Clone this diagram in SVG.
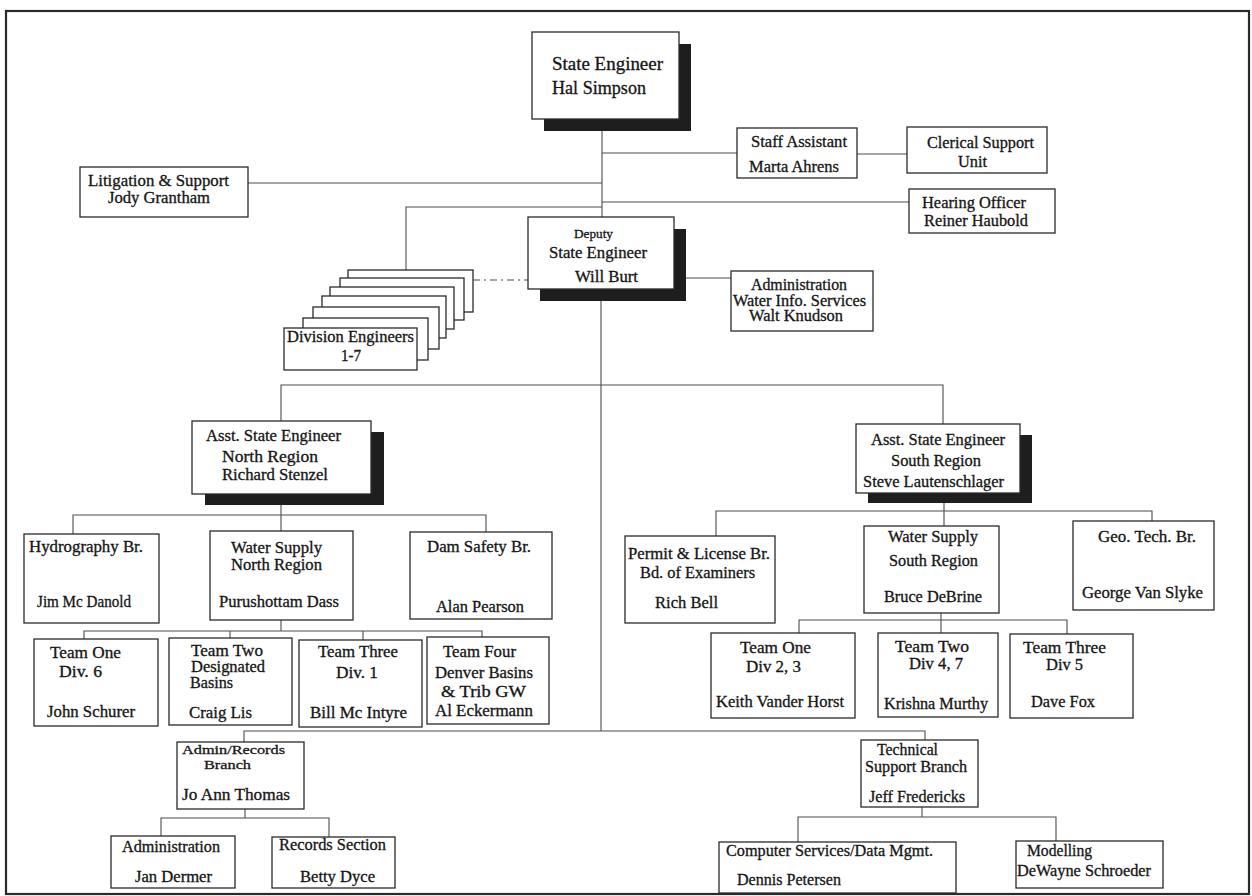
<svg xmlns="http://www.w3.org/2000/svg" width="1252" height="896" viewBox="0 0 1252 896">
<style>
.box{fill:#fff;stroke:#2a2a2a;stroke-width:1.3}
.sh{fill:#1e1e1e}
.ln{fill:none;stroke:#4a4a55;stroke-width:1.1}
text{font-family:"Liberation Serif","Times New Roman",serif;font-size:16px;fill:#151515;stroke:#151515;stroke-width:0.3}
.big{font-size:18px}
.sm{font-size:13px}
.tight{font-size:13px}
</style>
<rect x="0" y="0" width="1252" height="896" fill="#fff"/>
<rect x="6" y="11" width="1243" height="883" fill="none" stroke="#2a2a2a" stroke-width="2.2"/>

<g id="connectors">
<path class="ln" d="M602 119V217M601 289V731"/>
<path class="ln" d="M602 153H737M857 154H907"/>
<path class="ln" d="M248 183H602"/>
<path class="ln" d="M602 202H909"/>
<path class="ln" d="M406 270V207H602"/>
<path class="ln" d="M473 280H529" stroke-dasharray="7 4 2 4"/>
<path class="ln" d="M674 278H731"/>
<path class="ln" d="M281 421V385H943V424"/>
<path class="ln" d="M73 534V515H486V532M281 494V531"/>
<path class="ln" d="M281 620V631M84 639V631H482V637M230 631V638M363 631V640"/>
<path class="ln" d="M716 536V511H1152V521M944 493V526"/>
<path class="ln" d="M941 613V633M799 633V620H1067V634"/>
<path class="ln" d="M244 742V731H925V740"/>
<path class="ln" d="M245 809V818M161 836V818H329V837"/>
<path class="ln" d="M922 807V817M798 842V817H1056V841"/>
</g>

<g id="state-engineer">
<rect class="sh" x="544" y="44" width="147" height="87"/>
<rect class="box" x="532" y="32" width="147" height="87"/>
<text class="big" x="552" y="70" textLength="111" lengthAdjust="spacingAndGlyphs">State Engineer</text>
<text class="big" x="552" y="94" textLength="94" lengthAdjust="spacingAndGlyphs">Hal Simpson</text>
</g>

<g id="staff-assistant">
<rect class="box" x="737" y="128" width="120" height="50"/>
<text x="751" y="147" textLength="96" lengthAdjust="spacingAndGlyphs">Staff Assistant</text>
<text x="749" y="172" textLength="90" lengthAdjust="spacingAndGlyphs">Marta Ahrens</text>
</g>

<g id="clerical-support">
<rect class="box" x="907" y="127" width="140" height="46"/>
<text x="927" y="148" textLength="107" lengthAdjust="spacingAndGlyphs">Clerical Support</text>
<text x="958" y="167" textLength="29" lengthAdjust="spacingAndGlyphs">Unit</text>
</g>

<g id="litigation">
<rect class="box" x="80" y="167" width="168" height="50"/>
<text x="88" y="186" textLength="141" lengthAdjust="spacingAndGlyphs">Litigation &amp; Support</text>
<text x="108" y="203" textLength="102" lengthAdjust="spacingAndGlyphs">Jody Grantham</text>
</g>

<g id="hearing-officer">
<rect class="box" x="909" y="189" width="146" height="44"/>
<text x="922" y="208" textLength="104" lengthAdjust="spacingAndGlyphs">Hearing Officer</text>
<text x="924" y="226" textLength="104" lengthAdjust="spacingAndGlyphs">Reiner Haubold</text>
</g>

<g id="deputy">
<rect class="sh" x="540" y="229" width="146" height="72"/>
<rect class="box" x="528" y="217" width="146" height="72"/>
<text class="sm" x="574" y="238" textLength="39" lengthAdjust="spacingAndGlyphs">Deputy</text>
<text x="549" y="258" textLength="98" lengthAdjust="spacingAndGlyphs">State Engineer</text>
<text x="575" y="282" textLength="63" lengthAdjust="spacingAndGlyphs">Will Burt</text>
</g>

<g id="admin-wis">
<rect class="box" x="731" y="271" width="142" height="60"/>
<text x="751" y="290" textLength="96" lengthAdjust="spacingAndGlyphs">Administration</text>
<text x="733" y="306" textLength="133" lengthAdjust="spacingAndGlyphs">Water Info. Services</text>
<text x="749" y="321" textLength="94" lengthAdjust="spacingAndGlyphs">Walt Knudson</text>
</g>

<g id="division-engineers">
<rect class="box" x="348" y="270" width="125" height="42"/>
<rect class="box" x="340" y="278" width="124" height="42"/>
<rect class="box" x="330" y="287" width="124" height="42"/>
<rect class="box" x="322" y="296" width="124" height="42"/>
<rect class="box" x="313" y="307" width="126" height="42"/>
<rect class="box" x="303" y="318" width="125" height="42"/>
<rect class="box" x="284" y="328" width="133" height="42"/>
<text x="287" y="342" textLength="127" lengthAdjust="spacingAndGlyphs">Division Engineers</text>
<text x="341" y="361" textLength="20" lengthAdjust="spacingAndGlyphs">1-7</text>
</g>

<g id="north-region">
<rect class="sh" x="205" y="432" width="179" height="73"/>
<rect class="box" x="192" y="421" width="179" height="73"/>
<text x="206" y="441" textLength="135" lengthAdjust="spacingAndGlyphs">Asst. State Engineer</text>
<text x="222" y="462" textLength="96" lengthAdjust="spacingAndGlyphs">North Region</text>
<text x="222" y="480" textLength="106" lengthAdjust="spacingAndGlyphs">Richard Stenzel</text>
</g>

<g id="hydrography">
<rect class="box" x="24" y="534" width="135" height="89"/>
<text x="29" y="552" textLength="114" lengthAdjust="spacingAndGlyphs">Hydrography Br.</text>
<text x="37" y="607" textLength="94" lengthAdjust="spacingAndGlyphs">Jim Mc Danold</text>
</g>

<g id="water-supply-north">
<rect class="box" x="210" y="531" width="143" height="89"/>
<text x="231" y="553" textLength="91" lengthAdjust="spacingAndGlyphs">Water Supply</text>
<text x="231" y="570" textLength="91" lengthAdjust="spacingAndGlyphs">North Region</text>
<text x="219" y="607" textLength="120" lengthAdjust="spacingAndGlyphs">Purushottam Dass</text>
</g>

<g id="dam-safety">
<rect class="box" x="410" y="532" width="142" height="87"/>
<text x="427" y="552" textLength="104" lengthAdjust="spacingAndGlyphs">Dam Safety Br.</text>
<text x="436" y="612" textLength="88" lengthAdjust="spacingAndGlyphs">Alan Pearson</text>
</g>

<g id="north-team-one">
<rect class="box" x="34" y="639" width="124" height="87"/>
<text x="50" y="658" textLength="71" lengthAdjust="spacingAndGlyphs">Team One</text>
<text x="59" y="677" textLength="43" lengthAdjust="spacingAndGlyphs">Div. 6</text>
<text x="47" y="717" textLength="88" lengthAdjust="spacingAndGlyphs">John Schurer</text>
</g>

<g id="north-team-two">
<rect class="box" x="169" y="638" width="123" height="87"/>
<text x="191" y="656" textLength="72" lengthAdjust="spacingAndGlyphs">Team Two</text>
<text x="191" y="672" textLength="74" lengthAdjust="spacingAndGlyphs">Designated</text>
<text x="190" y="688" textLength="43" lengthAdjust="spacingAndGlyphs">Basins</text>
<text x="189" y="718" textLength="63" lengthAdjust="spacingAndGlyphs">Craig Lis</text>
</g>

<g id="north-team-three">
<rect class="box" x="299" y="640" width="123" height="87"/>
<text x="318" y="657" textLength="80" lengthAdjust="spacingAndGlyphs">Team Three</text>
<text x="336" y="678" textLength="42" lengthAdjust="spacingAndGlyphs">Div. 1</text>
<text x="310" y="718" textLength="97" lengthAdjust="spacingAndGlyphs">Bill Mc Intyre</text>
</g>

<g id="north-team-four">
<rect class="box" x="427" y="637" width="122" height="87"/>
<text x="443" y="657" textLength="73" lengthAdjust="spacingAndGlyphs">Team Four</text>
<text x="435" y="678" textLength="98" lengthAdjust="spacingAndGlyphs">Denver Basins</text>
<text x="441" y="697" textLength="85" lengthAdjust="spacingAndGlyphs">&amp; Trib GW</text>
<text x="435" y="716" textLength="98" lengthAdjust="spacingAndGlyphs">Al Eckermann</text>
</g>

<g id="south-region">
<rect class="sh" x="868" y="435" width="164" height="68"/>
<rect class="box" x="856" y="424" width="164" height="69"/>
<text x="871" y="445" textLength="134" lengthAdjust="spacingAndGlyphs">Asst. State Engineer</text>
<text x="891" y="466" textLength="90" lengthAdjust="spacingAndGlyphs">South Region</text>
<text x="863" y="487" textLength="141" lengthAdjust="spacingAndGlyphs">Steve Lautenschlager</text>
</g>

<g id="permit-license">
<rect class="box" x="625" y="536" width="150" height="87"/>
<text x="628" y="559" textLength="142" lengthAdjust="spacingAndGlyphs">Permit &amp; License Br.</text>
<text x="640" y="578" textLength="115" lengthAdjust="spacingAndGlyphs">Bd. of Examiners</text>
<text x="655" y="608" textLength="63" lengthAdjust="spacingAndGlyphs">Rich Bell</text>
</g>

<g id="water-supply-south">
<rect class="box" x="864" y="526" width="135" height="87"/>
<text x="888" y="542" textLength="90" lengthAdjust="spacingAndGlyphs">Water Supply</text>
<text x="889" y="566" textLength="89" lengthAdjust="spacingAndGlyphs">South Region</text>
<text x="884" y="602" textLength="98" lengthAdjust="spacingAndGlyphs">Bruce DeBrine</text>
</g>

<g id="geo-tech">
<rect class="box" x="1073" y="521" width="141" height="89"/>
<text x="1098" y="542" textLength="98" lengthAdjust="spacingAndGlyphs">Geo. Tech. Br.</text>
<text x="1082" y="598" textLength="121" lengthAdjust="spacingAndGlyphs">George Van Slyke</text>
</g>

<g id="south-team-one">
<rect class="box" x="711" y="633" width="144" height="85"/>
<text x="740" y="653" textLength="71" lengthAdjust="spacingAndGlyphs">Team One</text>
<text x="746" y="672" textLength="55" lengthAdjust="spacingAndGlyphs">Div 2, 3</text>
<text x="716" y="707" textLength="128" lengthAdjust="spacingAndGlyphs">Keith Vander Horst</text>
</g>

<g id="south-team-two">
<rect class="box" x="878" y="633" width="120" height="84"/>
<text x="895" y="652" textLength="74" lengthAdjust="spacingAndGlyphs">Team Two</text>
<text x="909" y="669" textLength="54" lengthAdjust="spacingAndGlyphs">Div 4, 7</text>
<text x="884" y="709" textLength="104" lengthAdjust="spacingAndGlyphs">Krishna Murthy</text>
</g>

<g id="south-team-three">
<rect class="box" x="1010" y="634" width="123" height="84"/>
<text x="1023" y="653" textLength="83" lengthAdjust="spacingAndGlyphs">Team Three</text>
<text x="1046" y="670" textLength="37" lengthAdjust="spacingAndGlyphs">Div 5</text>
<text x="1031" y="707" textLength="64" lengthAdjust="spacingAndGlyphs">Dave Fox</text>
</g>

<g id="admin-records">
<rect class="box" x="177" y="742" width="127" height="67"/>
<text class="tight" x="182" y="754" textLength="103" lengthAdjust="spacingAndGlyphs">Admin/Records</text>
<text class="tight" x="204" y="769" textLength="47" lengthAdjust="spacingAndGlyphs">Branch</text>
<text x="182" y="800" textLength="108" lengthAdjust="spacingAndGlyphs">Jo Ann Thomas</text>
</g>

<g id="administration">
<rect class="box" x="111" y="836" width="124" height="52"/>
<text x="122" y="852" textLength="98" lengthAdjust="spacingAndGlyphs">Administration</text>
<text x="135" y="882" textLength="77" lengthAdjust="spacingAndGlyphs">Jan Dermer</text>
</g>

<g id="records-section">
<rect class="box" x="272" y="837" width="123" height="51"/>
<text x="279" y="850" textLength="107" lengthAdjust="spacingAndGlyphs">Records Section</text>
<text x="300" y="882" textLength="75" lengthAdjust="spacingAndGlyphs">Betty Dyce</text>
</g>

<g id="technical-support">
<rect class="box" x="861" y="740" width="117" height="67"/>
<text x="877" y="755" textLength="61" lengthAdjust="spacingAndGlyphs">Technical</text>
<text x="865" y="772" textLength="102" lengthAdjust="spacingAndGlyphs">Support Branch</text>
<text x="869" y="802" textLength="96" lengthAdjust="spacingAndGlyphs">Jeff Fredericks</text>
</g>

<g id="computer-services">
<rect class="box" x="719" y="842" width="237" height="51"/>
<text x="726" y="856" textLength="207" lengthAdjust="spacingAndGlyphs">Computer Services/Data Mgmt.</text>
<text x="737" y="885" textLength="104" lengthAdjust="spacingAndGlyphs">Dennis Petersen</text>
</g>

<g id="modelling">
<rect class="box" x="1016" y="841" width="147" height="47"/>
<text x="1027" y="856" textLength="65" lengthAdjust="spacingAndGlyphs">Modelling</text>
<text x="1017" y="876" textLength="134" lengthAdjust="spacingAndGlyphs">DeWayne Schroeder</text>
</g>
</svg>
